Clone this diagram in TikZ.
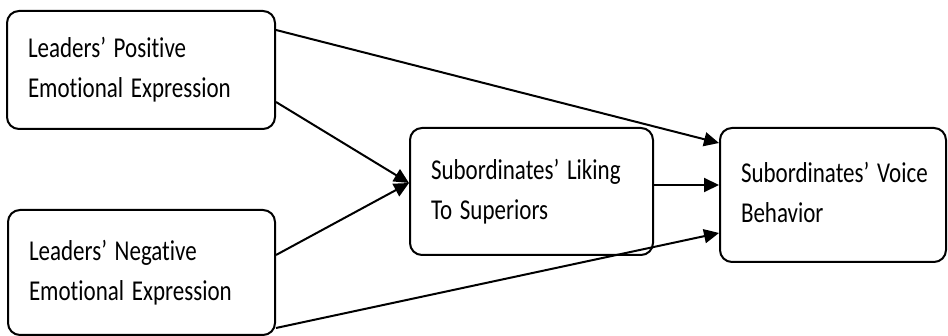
\documentclass[tikz,border=0pt]{standalone}
\usepackage{fontspec}
\setmainfont{Carlito}[Ligatures={TeX,NoCommon}]
\usetikzlibrary{arrows.meta}
\tikzset{
  box/.style={draw, line width=2pt, rounded corners=12pt, align=left,
    inner xsep=21pt, inner ysep=0pt, font=\fontsize{23}{32}\selectfont},
  arr/.style={line width=2pt, -{Triangle[length=15pt,width=14pt]}}
}
\newcommand\boxtxt[1]{\scalebox{1}[1.25]{\begin{tabular}{@{}l@{}}#1\end{tabular}}}
\begin{document}
\begin{tikzpicture}[x=1pt,y=-1pt]
\useasboundingbox (0,0) rectangle (948,336);
\node[box, minimum width=268pt, minimum height=118pt, text width=226pt] (b1) at (141,70) {\boxtxt{Leaders’ Positive\\Emotional Expression}};
\node[box, minimum width=267pt, minimum height=125pt, text width=225pt] (b2) at (141.5,272.5) {\boxtxt{Leaders’ Negative\\Emotional Expression}};
\node[box, minimum width=243pt, minimum height=127pt, text width=201pt] (b3) at (531.5,191.5) {\boxtxt{Subordinates’ Liking\\To Superiors}};
\node[box, minimum width=226pt, minimum height=134pt, text width=184pt] (b4) at (833,195) {\boxtxt{Subordinates’ Voice\\Behavior}};
\draw[arr] (b1.east |- 0,30) -- (b4.west |- 0,143);
\draw[arr] (b1.east |- 0,102) -- (b3.west |- 0,183);
\draw[arr] (b2.east |- 0,255) -- (b3.west |- 0,183);
\draw[arr] (b2.east |- 0,328) -- (b4.west |- 0,233);
\draw[arr] (b3.east |- 0,185) -- (b4.west |- 0,185);
\end{tikzpicture}
\end{document}
